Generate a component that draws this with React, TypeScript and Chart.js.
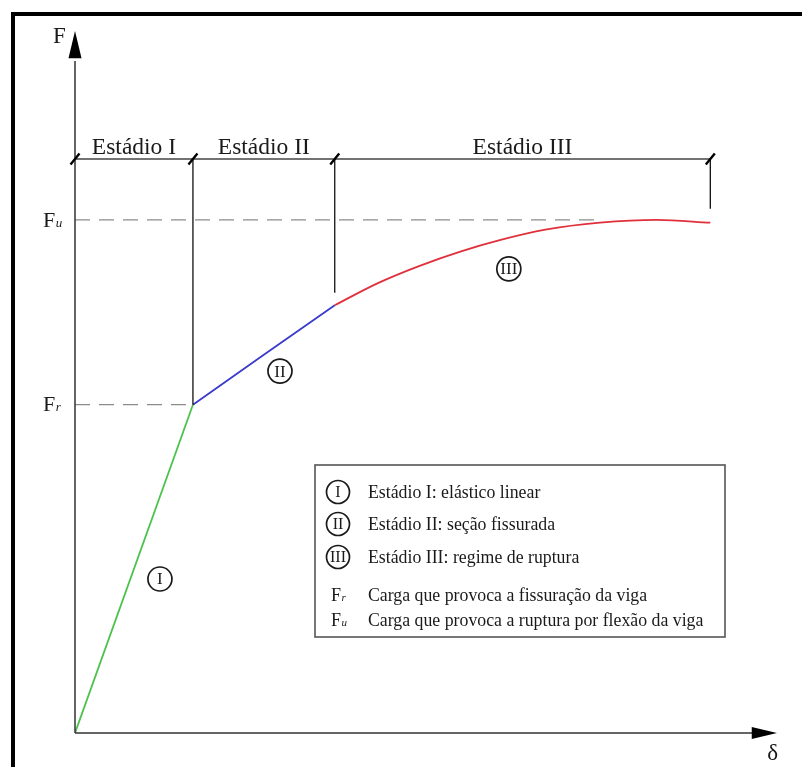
import { useEffect, useRef } from "react";
import { Chart, registerables } from "chart.js";

Chart.register(...registerables);

// ---- data (δ horizontal, F vertical, arbitrary units) ----
const stageLabels = ["Estádio I", "Estádio II", "Estádio III"];
const stageBounds = [0, 1.68, 3.7, 9.05];
const boundaryBottoms = [0, 4.69, 6.29, 7.49];
const dimLevel = 8.2;

const stage1X = [0, 1.68];
const stage1Y = [0, 4.69];
const stage2X = [1.68, 2.7, 3.7];
const stage2Y = [4.69, 5.41, 6.11];
const stage3X = [3.7, 4.3, 4.9, 5.5, 6.05, 6.7, 7.48, 8.29, 9.05];
const stage3Y = [6.11, 6.42, 6.67, 6.88, 7.04, 7.19, 7.29, 7.33, 7.29];

const FrValue = 4.69;
const FuValue = 7.33;
const FuDashEnd = 7.48;

const markerLabels = ["I", "II", "III"];
const markerX = [1.21, 2.92, 6.18];
const markerY = [2.2, 5.17, 6.63];

const legendSymbols = ["I", "II", "III", "Fr", "Fu"];
const legendTexts = [
  "Estádio I: elástico linear",
  "Estádio II: seção fissurada",
  "Estádio III: regime de ruptura",
  "Carga que provoca a fissuração da viga",
  "Carga que provoca a ruptura por flexão da viga",
];

const SERIF = '"Liberation Serif", "DejaVu Serif", serif';
const INK = "#1a1a1a";

const pts = (xs: number[], ys: number[]) => xs.map((x, i) => ({ x, y: ys[i] }));

function circled(ctx: CanvasRenderingContext2D, cx: number, cy: number, r: number, label: string, fs: number) {
  ctx.save();
  ctx.beginPath();
  ctx.arc(cx, cy, r, 0, Math.PI * 2);
  ctx.lineWidth = 1.7;
  ctx.strokeStyle = INK;
  ctx.stroke();
  ctx.fillStyle = INK;
  ctx.font = `${fs}px ${SERIF}`;
  ctx.textAlign = "center";
  ctx.textBaseline = "middle";
  ctx.fillText(label, cx, cy + 1, r * 1.65);
  ctx.restore();
}

function subLabel(ctx: CanvasRenderingContext2D, x: number, baseline: number, main: string, sub: string, fs: number, sfs: number) {
  ctx.save();
  ctx.fillStyle = INK;
  ctx.textAlign = "left";
  ctx.textBaseline = "alphabetic";
  ctx.font = `${fs}px ${SERIF}`;
  ctx.fillText(main, x, baseline);
  const w = ctx.measureText(main).width;
  ctx.font = `italic ${sfs}px ${SERIF}`;
  ctx.fillText(sub, x + w + 0.5, baseline);
  ctx.restore();
}

const decorPlugin = {
  id: "decor",
  beforeDraw(chart: any) {
    const ctx: CanvasRenderingContext2D = chart.ctx;
    ctx.save();
    ctx.fillStyle = "#ffffff";
    ctx.fillRect(0, 0, chart.width, chart.height);
    ctx.strokeStyle = "#000";
    ctx.lineWidth = 4;
    ctx.strokeRect(13, 14, chart.width + 20, chart.height + 20);
    ctx.restore();
  },
  afterDatasetsDraw(chart: any) {
    const ctx: CanvasRenderingContext2D = chart.ctx;
    const xs = chart.scales.x;
    const ys = chart.scales.y;
    const px = (v: number) => xs.getPixelForValue(v);
    const py = (v: number) => ys.getPixelForValue(v);
    const ox = px(0);
    const oy = py(0);
    ctx.save();

    // axes
    ctx.strokeStyle = "#333";
    ctx.lineWidth = 1.5;
    ctx.beginPath();
    ctx.moveTo(ox, oy);
    ctx.lineTo(ox, py(9.6));
    ctx.moveTo(ox, oy);
    ctx.lineTo(px(9.65), oy);
    ctx.stroke();
    ctx.fillStyle = "#000";
    // y arrow
    ctx.beginPath();
    ctx.moveTo(ox, py(10) - 2);
    ctx.lineTo(ox - 6.5, py(9.64));
    ctx.lineTo(ox + 6.5, py(9.64));
    ctx.closePath();
    ctx.fill();
    // x arrow
    ctx.beginPath();
    ctx.moveTo(px(10), oy);
    ctx.lineTo(px(9.64), oy - 6);
    ctx.lineTo(px(9.64), oy + 6);
    ctx.closePath();
    ctx.fill();

    // dimension line
    const dy = py(dimLevel);
    ctx.strokeStyle = "#444";
    ctx.lineWidth = 1.5;
    ctx.beginPath();
    ctx.moveTo(px(stageBounds[0]), dy);
    ctx.lineTo(px(stageBounds[stageBounds.length - 1]), dy);
    ctx.stroke();
    // boundary verticals
    ctx.strokeStyle = "#111";
    ctx.lineWidth = 1.3;
    ctx.beginPath();
    for (let i = 1; i < stageBounds.length; i++) {
      ctx.moveTo(px(stageBounds[i]), dy);
      ctx.lineTo(px(stageBounds[i]), py(boundaryBottoms[i]));
    }
    ctx.stroke();
    // slash ticks
    ctx.strokeStyle = "#000";
    ctx.lineWidth = 2.4;
    ctx.beginPath();
    stageBounds.forEach((b) => {
      const x = px(b);
      ctx.moveTo(x - 4.5, dy + 5.5);
      ctx.lineTo(x + 4.5, dy - 5.5);
    });
    ctx.stroke();

    // stage labels
    ctx.fillStyle = INK;
    ctx.font = `23.5px ${SERIF}`;
    ctx.textAlign = "center";
    ctx.textBaseline = "alphabetic";
    stageLabels.forEach((s, i) => {
      const cx = (px(stageBounds[i]) + px(stageBounds[i + 1])) / 2;
      ctx.fillText(s, cx, dy - 5);
    });

    // axis labels
    ctx.textAlign = "left";
    ctx.font = `23px ${SERIF}`;
    ctx.fillText("F", ox - 22, py(10) + 10);
    ctx.fillText("δ", px(9.86), oy + 27);
    subLabel(ctx, ox - 32, py(FuValue) + 7, "F", "u", 22, 13);
    subLabel(ctx, ox - 32, py(FrValue) + 6, "F", "r", 22, 13);

    // circled markers on curve
    markerLabels.forEach((m, i) => circled(ctx, px(markerX[i]), py(markerY[i]), 12, m, 17));

    // legend box
    const bx = 315, by = 465, bw = 410, bh = 172;
    ctx.fillStyle = "#fff";
    ctx.fillRect(bx, by, bw, bh);
    ctx.strokeStyle = "#555";
    ctx.lineWidth = 1.6;
    ctx.strokeRect(bx, by, bw, bh);
    const rowY = [492, 524, 557, 595, 620];
    legendSymbols.forEach((s, i) => {
      const y = rowY[i];
      if (i < 3) {
        circled(ctx, 338, y, 11.5, s, 16);
      } else {
        subLabel(ctx, 331, y + 6, "F", s.slice(1), 18, 11);
      }
      ctx.fillStyle = INK;
      ctx.font = `17.8px ${SERIF}`;
      ctx.textAlign = "left";
      ctx.textBaseline = "alphabetic";
      ctx.fillText(legendTexts[i], 368, y + 6);
    });

    ctx.restore();
  },
};

export default function App() {
  const ref = useRef<HTMLCanvasElement | null>(null);
  useEffect(() => {
    if (!ref.current) return;
    const chart = new Chart(ref.current, {
      type: "line",
      data: {
        datasets: [
          {
            label: "Fu",
            data: [{ x: 0, y: FuValue }, { x: FuDashEnd, y: FuValue }],
            borderColor: "#8c8c8c",
            borderWidth: 1.3,
            borderDash: [15, 9],
          },
          {
            label: "Fr",
            data: [{ x: 0, y: FrValue }, { x: stage1X[1], y: FrValue }],
            borderColor: "#8c8c8c",
            borderWidth: 1.3,
            borderDash: [15, 9],
          },
          {
            label: "Estádio I",
            data: pts(stage1X, stage1Y),
            borderColor: "#4cc24c",
            borderWidth: 1.8,
          },
          {
            label: "Estádio II",
            data: pts(stage2X, stage2Y),
            borderColor: "#3a3acc",
            borderWidth: 1.8,
          },
          {
            label: "Estádio III",
            data: pts(stage3X, stage3Y),
            borderColor: "#e0303c",
            borderWidth: 1.8,
            cubicInterpolationMode: "monotone",
          },
        ] as any,
      },
      options: {
        animation: false,
        responsive: false,
        maintainAspectRatio: false,
        elements: { point: { radius: 0, hoverRadius: 0 }, line: { fill: false } },
        layout: { padding: { left: 75, right: 25, top: 33, bottom: 34 } },
        scales: {
          x: { type: "linear", min: 0, max: 10, display: false },
          y: { type: "linear", min: 0, max: 10, display: false },
        },
        plugins: { legend: { display: false }, tooltip: { enabled: false } },
      },
      plugins: [decorPlugin],
    });
    return () => chart.destroy();
  }, []);
  return (
    <div style={{ position: "absolute", left: 0, top: 0, width: 802, height: 767 }}>
      <canvas ref={ref} width={802} height={767} style={{ width: 802, height: 767 }} />
    </div>
  );
}
